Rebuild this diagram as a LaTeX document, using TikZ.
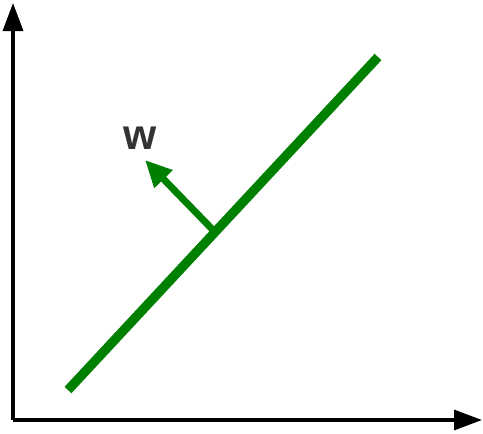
\documentclass[tikz,border=0pt]{standalone}
\usepackage{fontspec}
\setmainfont{Liberation Sans}
\usetikzlibrary{arrows.meta}
\definecolor{linegreen}{HTML}{008000}
\definecolor{labelgray}{HTML}{333333}
\tikzset{
  axis/.style={line width=2.4pt, -{Triangle[length=21pt,width=15pt]}},
  sepline/.style={line width=7pt, linegreen},
  normalvec/.style={line width=5.2pt, linegreen, -{Triangle[length=20pt,width=18pt]}},
  veclabel/.style={text=labelgray, font=\bfseries\fontsize{32}{34}\selectfont, inner sep=0pt}
}
\begin{document}
\begin{tikzpicture}[x=0.75pt,y=-0.75pt]
\useasboundingbox (0,0) rectangle (483,433);
\coordinate (O) at (13,420);
\coordinate (ytop) at (13,3);
\coordinate (xend) at (482,420);
\draw[axis] (O) -- (ytop);
\draw[axis] (O) -- (xend);
\coordinate (la) at (68,390);
\coordinate (lb) at (378,57);
\draw[sepline] (la) -- (lb);
\coordinate (vbase) at (212,229);
\coordinate (vtip) at (145,160);
\draw[normalvec] (vbase) -- (vtip);
\node[veclabel] (w) at (140,138) {w};
\end{tikzpicture}
\end{document}
